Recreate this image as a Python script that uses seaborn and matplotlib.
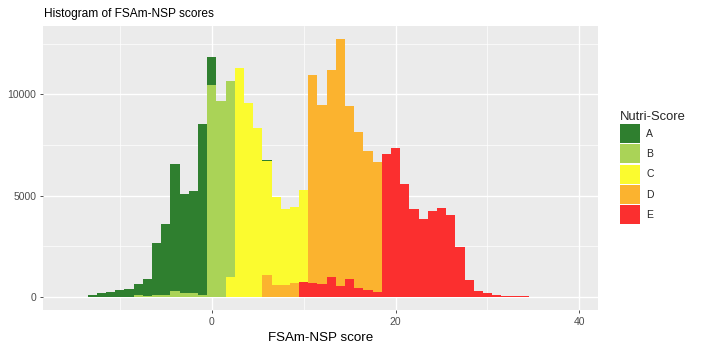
import numpy as np
import pandas as pd
import matplotlib
matplotlib.use("Agg")
import matplotlib.pyplot as plt
import seaborn as sns

# ---- data (counts per integer FSAm-NSP score, per Nutri-Score grade) ----
scores_A = [-13, -12, -11, -10, -9, -8, -7, -6, -5, -4, -3, -2, -1, 0, 6]
counts_A = [127, 196, 274, 357, 421, 516, 860, 2612, 3508, 6259, 4905, 5052, 8417, 1385, 60]

scores_B = [-8, -7, -6, -5, -4, -3, -2, -1, 0, 1, 2]
counts_B = [120, 50, 80, 80, 300, 200, 200, 100, 10441, 9690, 9640]

scores_C = [2, 3, 4, 5, 6, 7, 8, 9, 10]
counts_C = [1010, 11288, 9592, 8336, 5610, 4342, 3720, 3745, 4550]

scores_D = [6, 7, 8, 9, 11, 12, 13, 14, 15, 16, 17, 18]
counts_D = [1100, 602, 602, 700, 10279, 8811, 10199, 12173, 8532, 7685, 6868, 6383]

scores_E = [10, 11, 12, 13, 14, 15, 16, 17, 18, 19, 20, 21, 22, 23, 24, 25, 26,
            27, 28, 29, 30, 31, 32, 33, 34]
counts_E = [750, 700, 651, 1010, 553, 881, 440, 357, 274, 7048, 7350, 5580, 4356,
            3867, 4224, 4405, 4063, 2496, 847, 308, 225, 90, 70, 50, 40]

grades = ["A", "B", "C", "D", "E"]
grade_colors = {"A": "#2F7F2F", "B": "#AAD357", "C": "#FBFB2F",
                "D": "#FBB32F", "E": "#FB2F2F"}

frames = []
for g, s, c in zip(grades,
                   [scores_A, scores_B, scores_C, scores_D, scores_E],
                   [counts_A, counts_B, counts_C, counts_D, counts_E]):
    frames.append(pd.DataFrame({"score": s, "count": c, "Nutri-Score": g}))
df = pd.concat(frames, ignore_index=True)

# ---- figure ----
sns.set_theme(style="darkgrid")
plt.rcParams["font.family"] = ["Liberation Sans", "DejaVu Sans"]

fig = plt.figure(figsize=(7.01, 3.51), dpi=100)
ax = fig.add_axes([0.0618, 0.1168, 0.853 - 0.0618, 0.926 - 0.1168])

sns.histplot(data=df, x="score", weights="count", hue="Nutri-Score",
             hue_order=grades, palette=grade_colors, multiple="stack",
             discrete=True, alpha=1, linewidth=0, edgecolor="none", ax=ax)

ax.set_facecolor("#EBEBEB")
ax.set_xlim(-18.33, 42.02)
ax.set_ylim(-637, 13377)
ax.set_xticks([0, 20, 40])
ax.set_xticks([-10, 10, 30], minor=True)
ax.set_yticks([0, 5000, 10000])
ax.set_yticks([2500, 7500, 12500], minor=True)
ax.grid(which="major", color="white", linewidth=1.0)
ax.grid(which="minor", color="white", linewidth=0.5)
ax.set_axisbelow(True)
for sp in ax.spines.values():
    sp.set_visible(False)
ax.tick_params(which="major", length=2.4, width=0.6, color="#333333",
               labelsize=7.5, labelcolor="#4D4D4D", pad=2.5,
               bottom=True, left=True)
ax.tick_params(which="minor", length=0)
ax.set_xlabel("FSAm-NSP score", fontsize=9.6, color="black", labelpad=4)
ax.set_ylabel("")
fig.text(0.0625, 1 - 16.7 / 351, "Histogram of FSAm-NSP scores", fontsize=8.6,
         ha="left", va="baseline", color="black")

sns.move_legend(ax, loc="upper left", bbox_to_anchor=(1.032, 0.717),
                frameon=False, title="Nutri-Score", fontsize=7.5,
                title_fontsize=9.4, handlelength=1.95, handleheight=2.45,
                labelspacing=0.12, handletextpad=0.6, borderaxespad=0.0)
leg = ax.get_legend()
leg._legend_box.align = "left"

fig.savefig("out.png", dpi=100)
